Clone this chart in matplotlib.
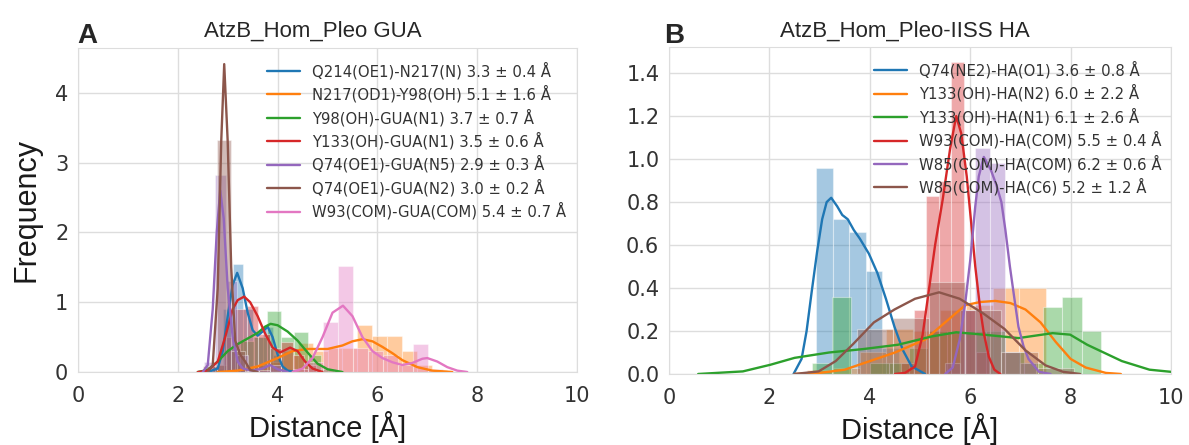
import matplotlib
matplotlib.use("Agg")
import matplotlib.pyplot as plt
import seaborn as sns
import numpy as np

sns.set_style("whitegrid")
plt.rcParams['font.family'] = ['DejaVu Sans']

colors = sns.color_palette("tab10")

# ---------- panel A : AtzB_Hom_Pleo GUA ----------
labels_a = ["Q214(OE1)-N217(N) 3.3 ± 0.4 Å",
            "N217(OD1)-Y98(OH) 5.1 ± 1.6 Å",
            "Y98(OH)-GUA(N1) 3.7 ± 0.7 Å",
            "Y133(OH)-GUA(N1) 3.5 ± 0.6 Å",
            "Q74(OE1)-GUA(N5) 2.9 ± 0.3 Å",
            "Q74(OE1)-GUA(N2) 3.0 ± 0.2 Å",
            "W93(COM)-GUA(COM) 5.4 ± 0.7 Å"]

# histogram bins (left edge, bin width) and bar heights
a_q214_edge, a_q214_w = 2.71, 0.20
a_q214_h = [0.05, 0.9, 1.55, 0.9, 0.5, 0.65, 0.25, 0.05]
a_n217_edge, a_n217_w = 2.90, 0.30
a_n217_h = [0.02, 0.05, 0.1, 0.15, 0.3, 0.42, 0.3, 0.35, 0.35, 0.67, 0.52, 0.52, 0.3, 0.1, 0.03]
a_y98_edge, a_y98_w = 2.71, 0.27
a_y98_h = [0.1, 0.35, 0.45, 0.5, 0.88, 0.5, 0.58, 0.25, 0.05]
a_y133_edge, a_y133_w = 2.69, 0.23
a_y133_h = [0.1, 0.5, 0.9, 0.95, 0.55, 0.35, 0.43, 0.25, 0.1]
a_n5_edge, a_n5_w = 2.52, 0.22
a_n5_h = [0.15, 2.82, 1.3, 0.25, 0.03, 0.03, 0.1]
a_n2_edge, a_n2_w = 2.51, 0.28
a_n2_h = [0.08, 3.32, 0.3, 0.02]
a_w93_edge, a_w93_w = 4.31, 0.30
a_w93_h = [0.05, 0.15, 0.72, 1.52, 0.35, 0.3, 0.25, 0.1, 0.4, 0.05]

# density curves
a_q214_x = [2.6, 2.8, 2.9, 3.0, 3.1, 3.19, 3.3, 3.4, 3.5, 3.6, 3.7, 3.8, 3.9, 4.0, 4.1, 4.2, 4.35]
a_q214_y = [0, 0.05, 0.3, 0.8, 1.25, 1.42, 1.2, 0.85, 0.6, 0.52, 0.58, 0.65, 0.5, 0.25, 0.08, 0.02, 0]
a_n217_x = [2.8, 3.2, 3.6, 4.0, 4.3, 4.6, 5.0, 5.3, 5.5, 5.7, 5.9, 6.1, 6.3, 6.5, 6.8, 7.1, 7.5]
a_n217_y = [0, 0.02, 0.08, 0.2, 0.3, 0.33, 0.33, 0.38, 0.44, 0.47, 0.44, 0.36, 0.27, 0.17, 0.07, 0.02, 0]
a_y98_x = [2.4, 2.6, 2.8, 3.0, 3.2, 3.4, 3.6, 3.75, 3.86, 4.0, 4.2, 4.4, 4.6, 4.8, 5.0, 5.3]
a_y98_y = [0, 0.03, 0.15, 0.3, 0.4, 0.48, 0.56, 0.65, 0.69, 0.67, 0.58, 0.45, 0.28, 0.12, 0.04, 0]
a_y133_x = [2.4, 2.6, 2.8, 2.95, 3.1, 3.2, 3.33, 3.45, 3.6, 3.75, 3.9, 4.05, 4.25, 4.4, 4.55, 4.7, 4.9]
a_y133_y = [0, 0.02, 0.15, 0.5, 0.9, 1.03, 1.08, 1.0, 0.8, 0.55, 0.35, 0.28, 0.35, 0.3, 0.15, 0.05, 0]
a_n5_x = [2.5, 2.6, 2.7, 2.78, 2.85, 2.92, 3.0, 3.1, 3.2, 3.3, 3.5, 3.7, 3.85, 4.0, 4.2]
a_n5_y = [0, 0.1, 0.9, 2.0, 2.6, 2.2, 1.2, 0.5, 0.15, 0.05, 0.02, 0.05, 0.1, 0.04, 0]
a_n2_x = [2.6, 2.7, 2.8, 2.87, 2.93, 3.0, 3.07, 3.15, 3.25, 3.35, 3.45, 3.6]
a_n2_y = [0, 0.1, 1.2, 3.3, 4.41, 3.3, 1.5, 0.45, 0.25, 0.15, 0.03, 0]
a_w93_x = [4.3, 4.5, 4.7, 4.9, 5.1, 5.31, 5.5, 5.7, 5.9, 6.1, 6.3, 6.5, 6.7, 6.9, 7.0, 7.2, 7.4, 7.6, 7.8]
a_w93_y = [0, 0.05, 0.2, 0.5, 0.85, 0.95, 0.8, 0.5, 0.3, 0.2, 0.14, 0.1, 0.13, 0.19, 0.2, 0.15, 0.07, 0.02, 0]

# ---------- panel B : AtzB_Hom_Pleo-IISS HA ----------
labels_b = ["Q74(NE2)-HA(O1) 3.6 ± 0.8 Å",
            "Y133(OH)-HA(N2) 6.0 ± 2.2 Å",
            "Y133(OH)-HA(N1) 6.1 ± 2.6 Å",
            "W93(COM)-HA(COM) 5.5 ± 0.4 Å",
            "W85(COM)-HA(COM) 6.2 ± 0.6 Å",
            "W85(COM)-HA(C6) 5.2 ± 1.2 Å"]

b_q74_edge, b_q74_w = 2.93, 0.33
b_q74_h = [0.96, 0.72, 0.66, 0.48, 0.12]
b_n2_edge, b_n2_w = 2.74, 0.53
b_n2_h = [0.02, 0.03, 0.1, 0.21, 0.2, 0.3, 0.32, 0.4, 0.4]
b_n1_edge, b_n1_w = 2.857, 0.383
b_n1_h = [0.05, 0.36, 0.0, 0.05, 0.05, 0.12, 0.2, 0.2, 0.2, 0.2, 0.1, 0.05, 0.31, 0.36, 0.2]
b_w93_edge, b_w93_w = 4.62, 0.25
b_w93_h = [0.05, 0.3, 0.83, 0.9, 1.45, 0.3, 0.1]
b_w85_edge, b_w85_w = 5.50, 0.30
b_w85_h = [0.05, 0.3, 1.05, 0.98, 0.1, 0.05]
b_c6_edge, b_c6_w = 3.74, 0.72
b_c6_h = [0.21, 0.26, 0.43, 0.3, 0.1, 0.03]

b_q74_x = [2.48, 2.64, 2.74, 2.84, 2.95, 3.05, 3.14, 3.23, 3.35, 3.45, 3.56, 3.68, 3.8, 3.98, 4.15, 4.32, 4.49, 4.66, 4.83, 5.1]
b_q74_y = [0, 0.07, 0.2, 0.38, 0.57, 0.72, 0.8, 0.82, 0.78, 0.74, 0.72, 0.67, 0.63, 0.56, 0.47, 0.35, 0.22, 0.11, 0.036, 0]
b_n2_x = [2.5, 3.0, 3.5, 4.0, 4.5, 4.8, 5.1, 5.4, 5.7, 5.9, 6.2, 6.5, 6.8, 7.1, 7.4, 7.7, 8.0, 8.3, 8.7, 9.0]
b_n2_y = [0, 0.005, 0.02, 0.06, 0.1, 0.13, 0.16, 0.22, 0.28, 0.32, 0.335, 0.34, 0.33, 0.3, 0.24, 0.15, 0.07, 0.03, 0.005, 0]
b_n1_x = [0.58, 1.47, 2.02, 2.5, 3.19, 3.87, 4.56, 5.24, 5.72, 6.27, 6.96, 7.64, 7.99, 8.33, 9.02, 9.57, 10.0]
b_n1_y = [0, 0.012, 0.043, 0.075, 0.1, 0.116, 0.136, 0.175, 0.194, 0.183, 0.167, 0.19, 0.183, 0.136, 0.06, 0.02, 0.01]
b_w93_x = [4.5, 4.7, 4.9, 5.05, 5.17, 5.3, 5.45, 5.6, 5.72, 5.82, 5.93, 6.02, 6.1, 6.2, 6.27, 6.37, 6.48, 6.6]
b_w93_y = [0, 0.005, 0.035, 0.18, 0.38, 0.6, 0.81, 1.05, 1.2, 1.12, 0.92, 0.7, 0.5, 0.3, 0.19, 0.08, 0.02, 0]
b_w85_x = [5.5, 5.65, 5.79, 5.9, 6.0, 6.1, 6.17, 6.27, 6.41, 6.52, 6.62, 6.7, 6.79, 6.88, 6.96, 7.06, 7.16, 7.37, 7.6]
b_w85_y = [0, 0.03, 0.16, 0.33, 0.53, 0.78, 0.92, 1.01, 0.95, 0.88, 0.8, 0.67, 0.5, 0.35, 0.22, 0.13, 0.07, 0.01, 0]
b_c6_x = [2.5, 2.98, 3.32, 3.67, 4.08, 4.49, 4.9, 5.38, 5.79, 6.27, 6.68, 7.1, 7.5, 7.85, 8.19]
b_c6_y = [0, 0.012, 0.06, 0.14, 0.24, 0.3, 0.35, 0.38, 0.35, 0.28, 0.21, 0.11, 0.04, 0.01, 0]

series_a = [(a_q214_edge, a_q214_w, a_q214_h, a_q214_x, a_q214_y),
            (a_n217_edge, a_n217_w, a_n217_h, a_n217_x, a_n217_y),
            (a_y98_edge, a_y98_w, a_y98_h, a_y98_x, a_y98_y),
            (a_y133_edge, a_y133_w, a_y133_h, a_y133_x, a_y133_y),
            (a_n5_edge, a_n5_w, a_n5_h, a_n5_x, a_n5_y),
            (a_n2_edge, a_n2_w, a_n2_h, a_n2_x, a_n2_y),
            (a_w93_edge, a_w93_w, a_w93_h, a_w93_x, a_w93_y)]
series_b = [(b_q74_edge, b_q74_w, b_q74_h, b_q74_x, b_q74_y),
            (b_n2_edge, b_n2_w, b_n2_h, b_n2_x, b_n2_y),
            (b_n1_edge, b_n1_w, b_n1_h, b_n1_x, b_n1_y),
            (b_w93_edge, b_w93_w, b_w93_h, b_w93_x, b_w93_y),
            (b_w85_edge, b_w85_w, b_w85_h, b_w85_x, b_w85_y),
            (b_c6_edge, b_c6_w, b_c6_h, b_c6_x, b_c6_y)]


def draw_panel(ax, series, labels):
    for i, (edge, w, h, kx, ky) in enumerate(series):
        lefts = edge + w * np.arange(len(h))
        ax.bar(lefts, h, width=w, align='edge', color=colors[i], alpha=0.4,
               edgecolor='white', linewidth=0.8)
        ax.plot(kx, ky, color=colors[i], lw=1.7, label=labels[i])
    ax.set_xlim(0, 10)
    ax.set_xticks([0, 2, 4, 6, 8, 10])
    ax.grid(True, color='#dddddd', lw=1.0)
    for s in ax.spines.values():
        s.set_color('#dddddd')
    ax.tick_params(labelsize=15, colors='#333333', length=0, pad=7)
    ax.tick_params(axis='x', pad=10)
    ax.set_xlabel("Distance [Å]", family='Liberation Sans', fontsize=21,
                  color='#1a1a1a', labelpad=4)


fig = plt.figure(figsize=(11.89, 4.45), dpi=100)
ax1 = fig.add_axes([0.0656, 0.164, 0.4197, 0.728])
ax2 = fig.add_axes([0.5627, 0.1596, 0.4222, 0.734])

draw_panel(ax1, series_a, labels_a)
ax1.set_ylim(0, 4.64)
ax1.set_yticks([0, 1, 2, 3, 4])
ax1.set_ylabel("Frequency", family='Liberation Sans', fontsize=22,
               color='#1a1a1a', labelpad=10)
ax1.legend(loc='upper left', bbox_to_anchor=(0.355, 0.995), frameon=False,
           fontsize=10.7, handlelength=2.2, handletextpad=0.8, labelspacing=0.4,
           borderpad=0.3, labelcolor='#333333')
ax1.set_title("AtzB_Hom_Pleo GUA", family='Liberation Sans', fontsize=16,
              x=0.47, pad=8)

draw_panel(ax2, series_b, labels_b)
ax2.set_ylim(0, 1.52)
ax2.set_yticks([0.0, 0.2, 0.4, 0.6, 0.8, 1.0, 1.2, 1.4])
ax2.yaxis.set_major_formatter(matplotlib.ticker.FormatStrFormatter('%.1f'))
ax2.legend(loc='upper left', bbox_to_anchor=(0.385, 0.995), frameon=False,
           fontsize=10.7, handlelength=2.2, handletextpad=0.8, labelspacing=0.4,
           borderpad=0.3, labelcolor='#333333')
ax2.set_title("AtzB_Hom_Pleo-IISS HA", family='Liberation Sans', fontsize=16,
              x=0.47, pad=8)

fig.text(77 / 1189, 1 - 43 / 445, "A", family='Liberation Sans', fontsize=20,
         fontweight='bold', va='baseline')
fig.text(664 / 1189, 1 - 43 / 445, "B", family='Liberation Sans', fontsize=20,
         fontweight='bold', va='baseline')

fig.savefig("out.png", dpi=100)
